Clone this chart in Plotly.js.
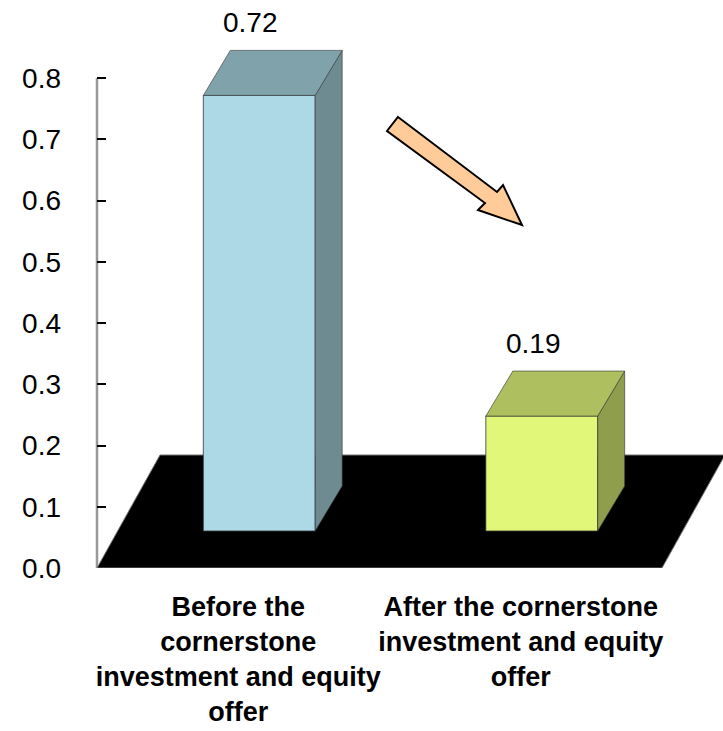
<!DOCTYPE html>
<html>
<head>
<meta charset="utf-8">
<script src="https://cdn.plot.ly/plotly-3.0.1.min.js"></script>
<style>html,body{margin:0;padding:0;background:#fff;}#chart{width:723px;height:731px;}</style>
</head>
<body>
<div id="chart"></div>
<script>
// ---- data ----
const categories = ['Before the<br>cornerstone<br>investment and equity<br>offer',
                    'After the cornerstone<br>investment and equity<br>offer'];
const values = [0.72, 0.19];
const valueLabels = ['0.72', '0.19'];
const yTickVals = [0, 0.1, 0.2, 0.3, 0.4, 0.5, 0.6, 0.7, 0.8];

// ---- styles ----
const frontColors = ['#ADD8E6', '#E0F77A'];
const topColors = ['#7FA2AB', '#ADBF5F'];
const sideColors = ['#6E8B91', '#8E9E4C'];
const FONT = 'Liberation Sans, Arial, sans-serif';

// geometry (pixels) for the pseudo-3D look
const W = 723, H = 731;
const L = 97, T = 30, B = 163; // plot area: x 97..723, y 30..568
const plotW = W - L, plotH = H - T - B;
const catPx = 282.5;          // pixels per category
const yPx = 612.5;            // pixels per unit on the front plane
const barYPx = 605;           // pixels per unit on the bar plane
const barPlaneDx = 21, barPlaneDy = 37; // bar plane offset from front plane
const barW = 0.396;           // bar width in category units
const depthDx = 27, depthDy = 45;        // bar depth (pixels)
const floorDx = 63, floorDy = 113;       // floor depth (pixels)
const labelLift = 28;         // label centre above the bar's top-back edge (px)

const xRange = [-0.5, -0.5 + plotW / catPx];
const yRange = [0, plotH / yPx];
const x2Range = [xRange[0] - barPlaneDx / catPx, xRange[1] - barPlaneDx / catPx];
const y2Range = [-barPlaneDy / barYPx, (plotH - barPlaneDy) / barYPx];
const ddx = depthDx / catPx, ddy = depthDy / barYPx;
const hw = barW / 2;

const traces = [];
values.forEach((v, i) => {
  // side face
  traces.push({
    type: 'scatter', mode: 'lines', xaxis: 'x2', yaxis: 'y2',
    x: [i + hw, i + hw, i + hw + ddx, i + hw + ddx, i + hw],
    y: [0, v, v + ddy, ddy, 0],
    fill: 'toself', fillcolor: sideColors[i],
    line: {color: '#333', width: 0.6}, hoverinfo: 'skip', showlegend: false
  });
  // top face
  traces.push({
    type: 'scatter', mode: 'lines', xaxis: 'x2', yaxis: 'y2',
    x: [i - hw, i + hw, i + hw + ddx, i - hw + ddx, i - hw],
    y: [v, v, v + ddy, v + ddy, v],
    fill: 'toself', fillcolor: topColors[i],
    line: {color: '#333', width: 0.6}, hoverinfo: 'skip', showlegend: false
  });
});
// front faces
traces.push({
  type: 'bar', xaxis: 'x2', yaxis: 'y2',
  x: values.map((v, i) => i), y: values, base: 0, width: barW,
  marker: {color: frontColors, line: {color: '#333', width: 0.8}},
  hoverinfo: 'skip', showlegend: false
});

// arrow (pixel geometry -> paper coords)
const arrowPx = [[398,117],[497,192],[503,185],[522,225],[478,210],[485,203],[387,131]];
const px2paper = p => [(p[0] - L) / plotW, (H - B - p[1]) / plotH];
const arrowPath = 'M ' + arrowPx.map(p => px2paper(p).map(n => n.toFixed(4)).join(',')).join(' L ') + ' Z';

const floorX = [xRange[0], xRange[0] + 2, xRange[0] + 2 + floorDx / catPx, xRange[0] + floorDx / catPx];
const floorY = [0, 0, floorDy / yPx, floorDy / yPx];
const floorPath = 'M ' + floorX.map((x, k) => x.toFixed(4) + ',' + floorY[k].toFixed(4)).join(' L ') + ' Z';

const layout = {
  width: W, height: H,
  margin: {l: L, r: 0, t: T, b: B},
  paper_bgcolor: '#fff', plot_bgcolor: 'rgba(0,0,0,0)',
  showlegend: false, hovermode: false,
  font: {family: FONT, color: '#000'},
  xaxis: {
    range: xRange, showgrid: false, zeroline: false, showline: false,
    tickmode: 'array', tickvals: [0, 1], ticktext: categories.map(c => '<b>' + c + '</b>'),
    tickangle: 0, automargin: false,
    ticks: '', tickfont: {family: FONT, size: 27, color: '#000'}, ticklabelstandoff: 20,
    fixedrange: true
  },
  yaxis: {
    range: yRange, showgrid: false, zeroline: false, showline: false,
    tickmode: 'array', tickvals: yTickVals, tickformat: '.1f',
    ticks: 'inside', ticklen: 9, tickwidth: 2, tickcolor: '#000',
    tickfont: {family: FONT, size: 28, color: '#000'}, ticklabelstandoff: 35,
    automargin: false, fixedrange: true
  },
  xaxis2: {overlaying: 'x', anchor: 'y2', range: x2Range, visible: false, fixedrange: true},
  yaxis2: {overlaying: 'y', anchor: 'x2', range: y2Range, visible: false, fixedrange: true},
  shapes: [
    {type: 'path', xref: 'x', yref: 'y', path: floorPath, fillcolor: '#000',
     line: {color: '#777', width: 1}, layer: 'below'},
    {type: 'line', xref: 'paper', yref: 'y', x0: 0, x1: 0, y0: 0, y1: 0.8,
     line: {color: '#999', width: 2.5}, layer: 'below'},
    {type: 'path', xref: 'paper', yref: 'paper', path: arrowPath,
     fillcolor: '#FFCC99', line: {color: '#000', width: 2}, layer: 'above'}
  ],
  annotations: values.map((v, i) => ({
    xref: 'x2', yref: 'y2', x: i - 0.03, y: v + ddy, yshift: labelLift,
    text: valueLabels[i], showarrow: false, yanchor: 'middle',
    font: {family: FONT, size: 28, color: '#000'}
  }))
};

Plotly.newPlot('chart', traces, layout, {displayModeBar: false, staticPlot: true});
</script>
</body>
</html>
